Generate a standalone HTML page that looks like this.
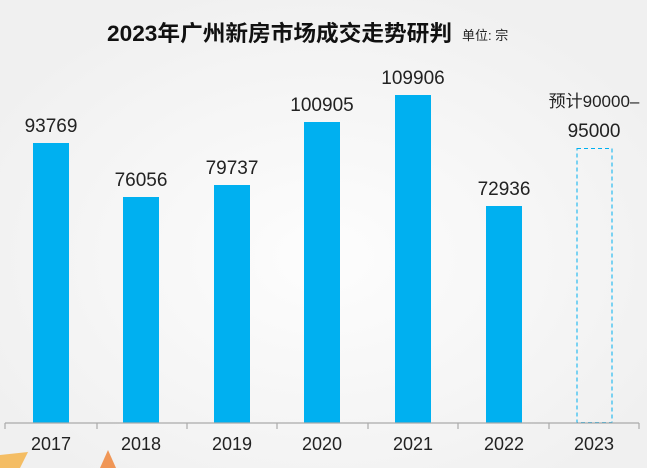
<!DOCTYPE html>
<html><head><meta charset="utf-8"><style>
body{margin:0;width:647px;height:468px;overflow:hidden;background:#f5f5f5;font-family:"Liberation Sans","Noto Sans CJK SC",sans-serif;}
svg{display:block}
</style></head><body>
<svg width="647" height="468" viewBox="0 0 647 468">
<defs><radialGradient id="g" cx="50%" cy="55%" r="60%"><stop offset="0" stop-color="#fdfdfd"/><stop offset="1" stop-color="#f0f0f0"/></radialGradient></defs>
<rect width="647" height="468" fill="url(#g)"/>
<text x="107" y="41" font-size="22" font-weight="bold" fill="#111" textLength="345" lengthAdjust="spacingAndGlyphs" font-family="Liberation Sans,Noto Sans CJK SC,sans-serif">2023年广州新房市场成交走势研判</text>
<text x="462" y="40" font-size="13" fill="#222" font-family="Liberation Sans,Noto Sans CJK SC,sans-serif">单位: 宗</text>
<g fill="#00b0f0">
<rect x="33" y="143" width="36" height="280"/>
<rect x="123" y="197" width="36" height="226"/>
<rect x="214" y="185" width="36" height="238"/>
<rect x="304" y="122" width="36" height="301"/>
<rect x="395" y="95" width="36" height="328"/>
<rect x="486" y="206" width="36" height="217"/>
</g>
<rect x="577" y="148.5" width="35" height="274" fill="none" stroke="#00b0f0" stroke-dasharray="4,3" stroke-width="1"/>
<g font-size="19" fill="#222" text-anchor="middle">
<text x="51" y="132">93769</text>
<text x="141" y="186">76056</text>
<text x="232" y="174">79737</text>
<text x="322" y="111">100905</text>
<text x="413" y="84">109906</text>
<text x="504" y="195">72936</text>
<text x="594" y="107" font-size="17">预计90000–</text>
<text x="594" y="137">95000</text>
</g>
<g stroke="#aaa" stroke-width="1.2">
<line x1="5" y1="423" x2="639" y2="423"/>
<line x1="5" y1="423" x2="5" y2="429"/><line x1="97" y1="423" x2="97" y2="429"/><line x1="187" y1="423" x2="187" y2="429"/><line x1="277" y1="423" x2="277" y2="429"/><line x1="368" y1="423" x2="368" y2="429"/><line x1="458" y1="423" x2="458" y2="429"/><line x1="549" y1="423" x2="549" y2="429"/><line x1="639" y1="423" x2="639" y2="429"/>
</g>
<g font-size="18" fill="#222" text-anchor="middle">
<text x="51" y="450">2017</text><text x="141" y="450">2018</text><text x="232" y="450">2019</text><text x="322" y="450">2020</text><text x="413" y="450">2021</text><text x="504" y="450">2022</text><text x="594" y="450">2023</text>
</g>
<polygon points="0,468 0,455 28,452 20,468" fill="#f5b041" opacity="0.8"/>
<polygon points="100,468 108,450 116,468" fill="#f08030" opacity="0.8"/>
</svg>
</body></html>
